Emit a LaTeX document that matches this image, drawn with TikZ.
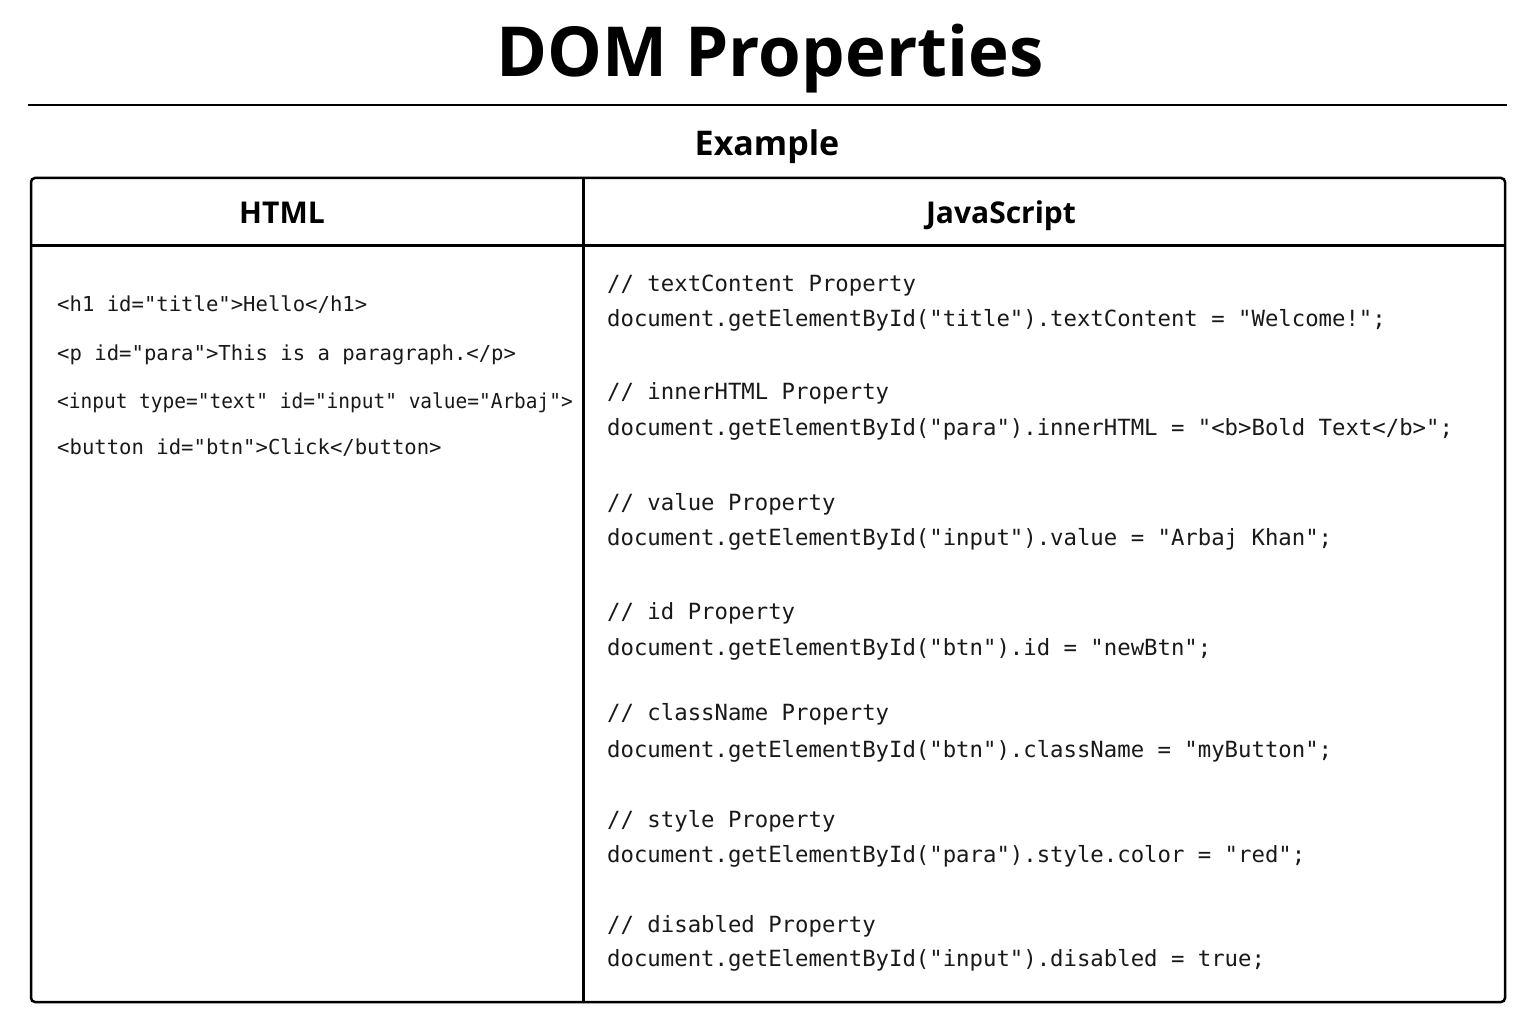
\documentclass[tikz,border=0pt]{standalone}
\usepackage{fontspec}
\setmainfont{Open Sans}
\newfontfamily\headfont{Open Sans}
\newfontfamily\codefont{DejaVu Sans Mono}
\tikzset{
  x=1pt, y=-1pt,
  frame/.style={draw=black, line width=2.5pt},
  rulestyle/.style={draw=black, line width=2.2pt},
  titletext/.style={inner sep=0pt, anchor=base, font=\headfont\bfseries\fontsize{69pt}{78pt}\selectfont},
  subtext/.style={inner sep=0pt, anchor=base, font=\headfont\bfseries\fontsize{34pt}{40pt}\selectfont},
  headtext/.style={inner sep=0pt, anchor=base, font=\headfont\bfseries\fontsize{30pt}{36pt}\selectfont},
  htmlcode/.style={inner sep=0pt, anchor=base west, text=black!90, font=\codefont\fontsize{20.6pt}{24pt}\selectfont},
  jscode/.style={inner sep=0pt, anchor=base west, text=black!90, font=\codefont\fontsize{22.3pt}{26pt}\selectfont},
}
\begin{document}
\begin{tikzpicture}
\useasboundingbox[fill=white] (0,0) rectangle (1536,1024);
% title
\node[titletext] (title) at (770,77) {DOM Properties};
\coordinate (ruleL) at (28,105);
\coordinate (ruleR) at (1507,105);
\draw[rulestyle] (ruleL) -- (ruleR);
\node[subtext] (example) at (767,156) {Example};
% table
\coordinate (tl) at (31,178);
\coordinate (br) at (1505,1002);
\draw[frame, rounded corners=4pt] (tl) rectangle (br);
\coordinate (hl) at (31,245.5);
\coordinate (hr) at (1505,245.5);
\draw[frame] (hl) -- (hr);
\coordinate (vt) at (583.5,178);
\coordinate (vb) at (583.5,1002);
\draw[frame] (vt) -- (vb);
\node[headtext] (hhtml) at (282,224) {HTML};
\node[headtext] (hjs) at (1001,224) {JavaScript};
% HTML code
\node[htmlcode] (h1) at (57,312) {<h1 id="title">Hello</h1>};
\node[htmlcode] (h2) at (57,360) {<p id="para">This is a paragraph.</p>};
\node[htmlcode] (h3) at (57,408) {\scalebox{0.945}[1]{<input type="text" id="input" value="Arbaj">}};
\node[htmlcode] (h4) at (57,454) {<button id="btn">Click</button>};
% JS code
\node[jscode] (j1a) at (607,291) {// textContent Property};
\node[jscode] (j1b) at (607,326) {document.getElementById("title").textContent = "Welcome!";};
\node[jscode] (j2a) at (607,399) {// innerHTML Property};
\node[jscode] (j2b) at (607,435) {document.getElementById("para").innerHTML = "<b>Bold Text</b>";};
\node[jscode] (j3a) at (607,510) {// value Property};
\node[jscode] (j3b) at (607,545) {document.getElementById("input").value = "Arbaj Khan";};
\node[jscode] (j4a) at (607,619) {// id Property};
\node[jscode] (j4b) at (607,655) {document.getElementById("btn").id = "newBtn";};
\node[jscode] (j5a) at (607,720) {// className Property};
\node[jscode] (j5b) at (607,757) {document.getElementById("btn").className = "myButton";};
\node[jscode] (j6a) at (607,827) {// style Property};
\node[jscode] (j6b) at (607,862) {document.getElementById("para").style.color = "red";};
\node[jscode] (j7a) at (607,932) {// disabled Property};
\node[jscode] (j7b) at (607,966) {document.getElementById("input").disabled = true;};
\end{tikzpicture}
\end{document}
